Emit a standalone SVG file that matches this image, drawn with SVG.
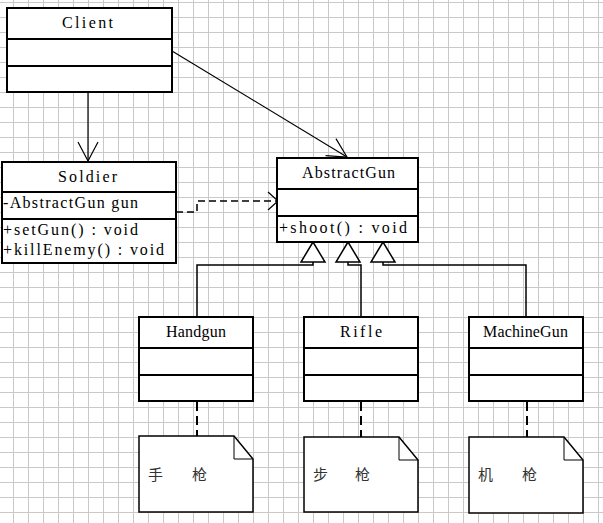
<svg xmlns="http://www.w3.org/2000/svg" width="603" height="523" viewBox="0 0 603 523">
<style>
.box{fill:#fff;stroke:#000;stroke-width:2}
.sep{stroke:#000;stroke-width:2}
.t{font-family:"Liberation Serif","DejaVu Serif",serif;font-size:16px;fill:#000}
.cn{font-family:"Noto Sans CJK SC",sans-serif;font-size:15px;fill:#333}
.ln{fill:none;stroke:#000;stroke-width:1.2}
.gen{fill:none;stroke:#000;stroke-width:1.5}
.tri{fill:#fff;stroke:#000;stroke-width:1.5}
.dep{fill:none;stroke:#000;stroke-width:1.5;stroke-dasharray:7 4}
.nl{fill:none;stroke:#000;stroke-width:2;stroke-dasharray:9 5}
.note{fill:#fff;stroke:#000;stroke-width:1.5}
.fold{fill:none;stroke:#000;stroke-width:1}
</style>
<defs>
<pattern id="grid" x="13" y="2" width="15" height="15" patternUnits="userSpaceOnUse">
<path d="M0 0.5H15M0.5 0V15" stroke="#c9c9c9" stroke-width="1" fill="none"/>
</pattern>
<marker id="open" markerUnits="userSpaceOnUse" viewBox="0 0 22 22" markerWidth="22" markerHeight="22" refX="20" refY="11" orient="auto">
<path d="M1,1 L20,11 L1,21" fill="none" stroke="#000" stroke-width="1.2"/>
</marker>
<marker id="openS" markerUnits="userSpaceOnUse" viewBox="0 0 14 20" markerWidth="14" markerHeight="20" refX="12" refY="10" orient="auto">
<path d="M2,1 L12,10 L2,19" fill="none" stroke="#000" stroke-width="1.2"/>
</marker>
</defs>
<rect width="603" height="523" fill="#fff"/>
<rect width="603" height="523" fill="url(#grid)"/>

<g id="connectors">
<line class="ln" x1="88" y1="92" x2="88" y2="161" marker-end="url(#open)"/>
<line class="ln" x1="172" y1="51" x2="347" y2="157" marker-end="url(#open)"/>
<polyline class="dep" points="176,212 197,212 197,201 278,201" marker-end="url(#openS)"/>
<polyline class="gen" points="313,262 313,265 197,265 197,317"/>
<polyline class="gen" points="348,262 348,265 361,265 361,317"/>
<polyline class="gen" points="383,262 383,265 526,265 526,317"/>
<polygon class="tri" points="313,242 301,262 325,262"/>
<polygon class="tri" points="348,242 336,262 360,262"/>
<polygon class="tri" points="383,242 371,262 395,262"/>
<line class="nl" x1="197" y1="402" x2="197" y2="436"/>
<line class="nl" x1="361" y1="402" x2="361" y2="437"/>
<line class="nl" x1="527" y1="402" x2="527" y2="437"/>
</g>

<g id="client">
<rect class="box" x="7" y="8" width="165" height="84"/>
<line class="sep" x1="7" y1="39" x2="172" y2="39"/>
<line class="sep" x1="7" y1="66" x2="172" y2="66"/>
<text class="t" x="62" y="28" textLength="51">Client</text>
</g>

<g id="soldier">
<rect class="box" x="2" y="162" width="174" height="101"/>
<line class="sep" x1="2" y1="192" x2="176" y2="192"/>
<line class="sep" x1="2" y1="219" x2="176" y2="219"/>
<text class="t" x="58" y="182" textLength="59">Soldier</text>
<text class="t" x="3" y="208" textLength="135">-AbstractGun gun</text>
<text class="t" x="3" y="235" textLength="135">+setGun() : void</text>
<text class="t" x="3" y="255" textLength="161">+killEnemy() : void</text>
</g>

<g id="abstractgun">
<rect class="box" x="277" y="158" width="141" height="84"/>
<line class="sep" x1="277" y1="189" x2="418" y2="189"/>
<line class="sep" x1="277" y1="216" x2="418" y2="216"/>
<text class="t" x="302" y="178" textLength="93">AbstractGun</text>
<text class="t" x="279" y="233" textLength="128">+shoot() : void</text>
</g>

<g id="handgun">
<rect class="box" x="139" y="317" width="114" height="84"/>
<line class="sep" x1="139" y1="348" x2="253" y2="348"/>
<line class="sep" x1="139" y1="375" x2="253" y2="375"/>
<text class="t" x="166" y="337" textLength="60">Handgun</text>
</g>

<g id="rifle">
<rect class="box" x="304" y="317" width="114" height="84"/>
<line class="sep" x1="304" y1="348" x2="418" y2="348"/>
<line class="sep" x1="304" y1="375" x2="418" y2="375"/>
<text class="t" x="340" y="337" textLength="42">Rifle</text>
</g>

<g id="machinegun">
<rect class="box" x="469" y="317" width="114" height="84"/>
<line class="sep" x1="469" y1="348" x2="583" y2="348"/>
<line class="sep" x1="469" y1="375" x2="583" y2="375"/>
<text class="t" x="483" y="337" textLength="85">MachineGun</text>
</g>

<g id="note-handgun">
<path class="note" d="M139,436 H234 L253,459 V512 H139 Z"/>
<path class="fold" d="M234,436 V459 H253"/>
<text class="cn" x="148" y="480">手</text>
<text class="cn" x="192" y="480">枪</text>
</g>

<g id="note-rifle">
<path class="note" d="M304,437 H399 L418,460 V512 H304 Z"/>
<path class="fold" d="M399,437 V460 H418"/>
<text class="cn" x="313" y="480">步</text>
<text class="cn" x="355" y="480">枪</text>
</g>

<g id="note-machinegun">
<path class="note" d="M469,437 H564 L583,460 V513 H469 Z"/>
<path class="fold" d="M564,437 V460 H583"/>
<text class="cn" x="478" y="480">机</text>
<text class="cn" x="522" y="480">枪</text>
</g>
</svg>
